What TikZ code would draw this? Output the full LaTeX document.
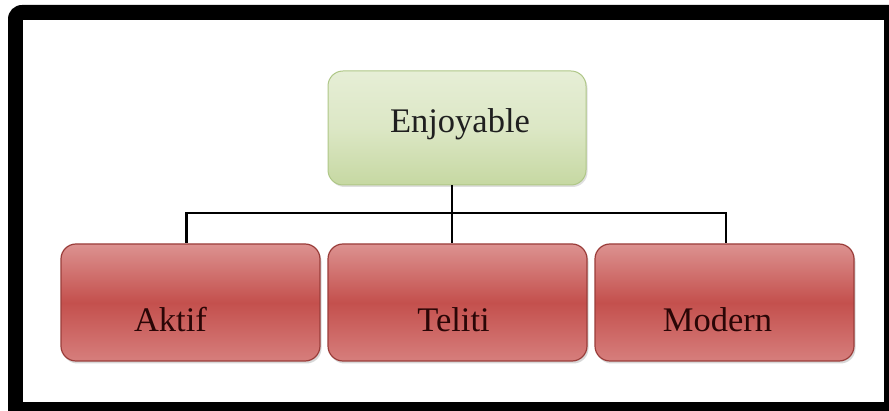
\documentclass[tikz,border=0pt]{standalone}
\usepackage{fontspec}
\setmainfont{Liberation Serif}
\usetikzlibrary{shadows}
\definecolor{gtop}{HTML}{E6EED6}
\definecolor{gmid}{HTML}{DCE7C5}
\definecolor{gbot}{HTML}{C6D8A2}
\definecolor{gedge}{HTML}{AFC787}
\definecolor{rtop}{HTML}{DC9290}
\definecolor{rmid}{HTML}{C4504D}
\definecolor{rbot}{HTML}{D67E7C}
\definecolor{redge}{HTML}{9A3D3A}
\definecolor{rtext}{HTML}{2A0606}
\tikzset{
  boxfont/.style={font=\fontsize{34.5}{38}\selectfont},
  greenbox/.style={rounded corners=15pt, draw=gedge, line width=1pt,
    top color=gtop, bottom color=gbot, middle color=gmid,
    drop shadow={opacity=0.25, shadow xshift=1.5pt, shadow yshift=-2pt},
    minimum width=258pt, minimum height=114pt, inner sep=0pt,
    text height=30pt, text depth=20pt, boxfont, text=black!88},
  redbox/.style={rounded corners=15pt, draw=redge, line width=1.2pt,
    top color=rtop, bottom color=rbot, middle color=rmid,
    drop shadow={opacity=0.3, shadow xshift=1.5pt, shadow yshift=-2.5pt},
    minimum width=259pt, minimum height=117pt, inner sep=0pt,
    text height=59pt, text depth=0pt, boxfont, text=rtext},
  link/.style={line width=2.8pt, black}
}
\begin{document}
\begin{tikzpicture}[x=1pt,y=-1pt]
\useasboundingbox (0,0) rectangle (889,411);
\clip (0,0) rectangle (889,411);
\fill[white] (0,0) rectangle (889,411);
\fill[black, rounded corners=14pt] (8,5) rectangle (910,430);
\fill[white] (23,20) rectangle (884,402);
\node[greenbox] (top) at (457,128) {\hspace*{6pt}Enjoyable};
\node[redbox] (aktif) at (190.5,302.5) {Aktif\hspace*{40pt}};
\node[redbox] (teliti) at (457.5,302.5) {Teliti\hspace*{8pt}};
\node[redbox] (modern) at (724.5,302.5) {Modern\hspace*{14pt}};
\coordinate (bus) at (452,213);
\draw[link] (bus |- top.south) -- (bus);
\draw[link] (bus) -| ([xshift=-4pt]aktif.north);
\draw[link] (bus) -| ([xshift=1.5pt]modern.north);
\draw[link] (bus) -- (bus |- teliti.north);
\end{tikzpicture}
\end{document}
